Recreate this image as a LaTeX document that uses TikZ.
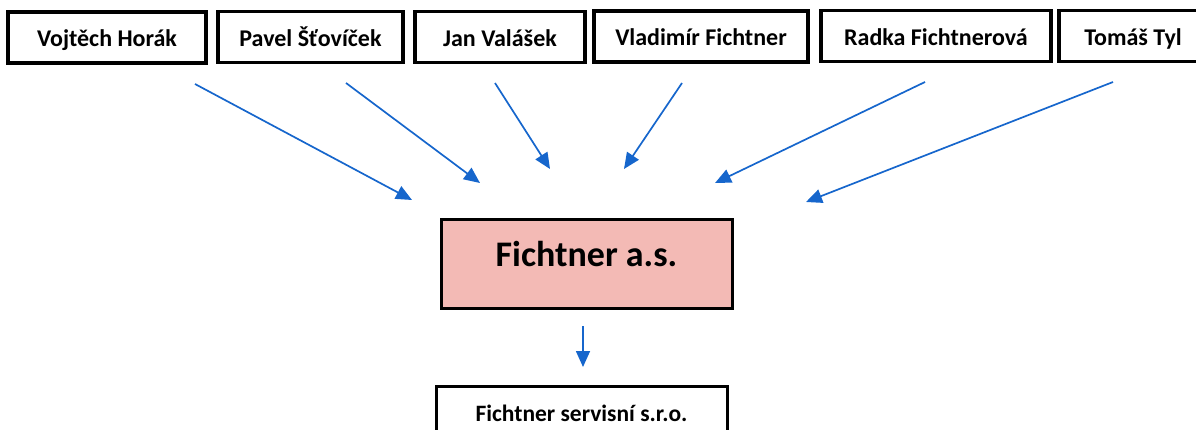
\documentclass[tikz,border=0pt]{standalone}
\usepackage{fontspec}
\setmainfont{Carlito}
\usetikzlibrary{arrows.meta}
\definecolor{pfeilblau}{RGB}{22,102,204}
\definecolor{rosa}{RGB}{243,186,181}
\tikzset{
  kasten/.style={draw=black, line width=3.5pt, minimum height=51pt, inner sep=0pt, text height=19pt, text depth=0pt, font=\fontsize{24}{28}\selectfont\bfseries},
  pfeil/.style={draw=pfeilblau, line width=1.7pt, -{Triangle[length=16pt, width=14pt]}}
}
\begin{document}
\begin{tikzpicture}[x=1pt, y=-1pt]
\useasboundingbox (0,0) rectangle (1196,430);
% Kaesten oben
\node[kasten, minimum width=198pt] (horak) at (107,37.5) {Vojtěch Horák};
\node[kasten, minimum width=185pt] (stovicek) at (310.5,37) {Pavel Šťovíček};
\node[kasten, minimum width=170pt] (valasek) at (500,37) {Jan Valášek};
\node[kasten, minimum width=214pt] (vfichtner) at (701,36.5) {Vladimír Fichtner};
\node[kasten, minimum width=230pt] (rfichtnerova) at (936,36) {Radka Fichtnerová};
\node[kasten, minimum width=148pt] (tyl) at (1133,36) {Tomáš Tyl};
% Kaesten unten
\node[kasten, fill=rosa, line width=3pt, minimum width=291pt, minimum height=88pt, text height=6pt, font=\fontsize{36}{40}\selectfont\bfseries] (as) at (586.5,264) {Fichtner a.s.};
\node[kasten, line width=3pt, minimum width=291pt, minimum height=60pt, text height=11pt, font=\fontsize{23.5}{27}\selectfont\bfseries] (sro) at (581.5,416) {Fichtner servisní s.r.o.};
% Pfeile
\coordinate (p1) at (195,84);  \coordinate (q1) at (412,200);
\coordinate (p2) at (346,83);  \coordinate (q2) at (480,183);
\coordinate (p3) at (495,83);  \coordinate (q3) at (550,169);
\coordinate (p4) at (682,83);  \coordinate (q4) at (624,169);
\coordinate (p5) at (925,82);  \coordinate (q5) at (715,183);
\coordinate (p6) at (1113,82); \coordinate (q6) at (806,202);
\coordinate (p7) at (583,326); \coordinate (q7) at (583,367);
\draw[pfeil] (p1) -- (q1);
\draw[pfeil] (p2) -- (q2);
\draw[pfeil] (p3) -- (q3);
\draw[pfeil] (p4) -- (q4);
\draw[pfeil] (p5) -- (q5);
\draw[pfeil] (p6) -- (q6);
\draw[pfeil] (p7) -- (q7);
\end{tikzpicture}
\end{document}
